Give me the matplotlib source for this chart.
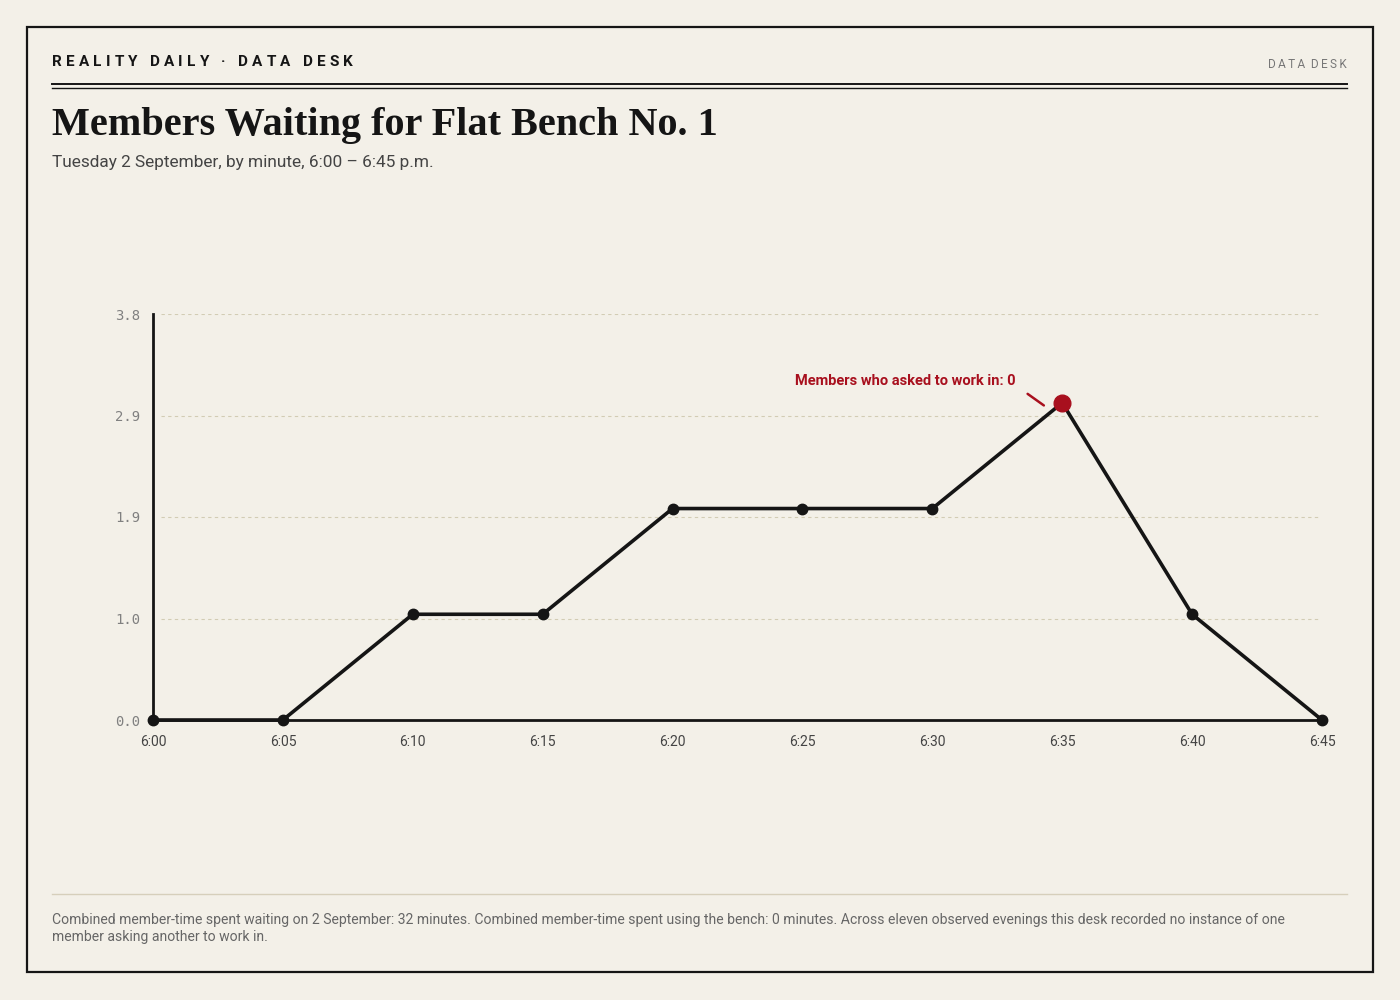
import matplotlib.pyplot as plt
from matplotlib.lines import Line2D
from matplotlib.patches import Rectangle

# data
minutes = [0, 5, 10, 15, 20, 25, 30, 35, 40, 45]
waiting = [0, 0, 1, 1, 2, 2, 2, 3, 1, 0]
x_labels = ['6:00', '6:05', '6:10', '6:15', '6:20', '6:25', '6:30', '6:35', '6:40', '6:45']
y_max = 3.84
y_ticks = [0, 0.96, 1.92, 2.88, 3.84]
y_labels = ['0.0', '1.0', '1.9', '2.9', '3.8']
peak_idx = 7
note = 'Members who asked to work in: 0'

BG = '#f3f0e8'
INK = '#151515'
RED = '#a8101e'

fig = plt.figure(figsize=(14, 10), dpi=100)
fig.patch.set_facecolor(BG)
renderer = fig.canvas.get_renderer()


def tracked(x_px, y_px, s, track_px, **kw):
    # draw text letter by letter with extra spacing (px)
    x = x_px
    for ch in s:
        t = fig.text(x / 1400, 1 - y_px / 1000, ch, va='center', ha='left', **kw)
        w = t.get_window_extent(renderer).width if ch != ' ' else kw.get('fontsize', 10) * 0.35
        x += w + track_px
    return x


# outer frame
fig.patches.append(Rectangle((27 / 1400, 1 - 972 / 1000), 1346 / 1400, 945 / 1000,
                             transform=fig.transFigure, fill=False, edgecolor=INK, linewidth=1.6))

# header
tracked(52, 62, 'REALITY DAILY · DATA DESK', 4.2, fontsize=11, fontweight='bold',
        family='Roboto', color=INK)
fig.text(1347 / 1400, 1 - 64 / 1000, '\u2009'.join('DATA DESK').replace('\u2009 \u2009', '  '),
         fontsize=8.5, family='Roboto', color='#777777', va='center', ha='right')
for yy, lw in [(84, 1.4), (87.5, 1.0)]:
    fig.add_artist(Line2D([52 / 1400, 1347 / 1400], [1 - yy / 1000] * 2, transform=fig.transFigure,
                          color=INK, linewidth=lw))

fig.text(52 / 1400, 1 - 125 / 1000, 'Members Waiting for Flat Bench No. 1', fontsize=29,
         fontweight='bold', family='Liberation Serif', color=INK, va='center', ha='left')
fig.text(52 / 1400, 1 - 162 / 1000, 'Tuesday 2 September, by minute, 6:00 \u2013 6:45 p.m.',
         fontsize=12.4, family='Roboto', color='#444444', va='center', ha='left')

# chart
ax = fig.add_axes([153 / 1400, 0.28, (1322 - 153) / 1400, 0.406])
ax.set_facecolor('none')
ax.set_xlim(0, 45)
ax.set_ylim(0, y_max)
for t in y_ticks[1:]:
    ax.plot([0.3, 44.85], [t, t], color='#d2ccb4', linewidth=0.8, linestyle=(0, (3, 3)), zorder=1)
ax.plot(minutes, waiting, color=INK, linewidth=2.6, marker='o', markersize=7.5,
        clip_on=False, zorder=3)
ax.plot(minutes[peak_idx], waiting[peak_idx], 'o', color=RED, markersize=12, clip_on=False, zorder=4)
ax.annotate('', xy=(minutes[peak_idx] - 0.62, waiting[peak_idx] - 0.04),
            xytext=(minutes[peak_idx] - 1.42, waiting[peak_idx] + 0.1),
            arrowprops=dict(arrowstyle='-', color=RED, linewidth=1.8))
ax.text(minutes[peak_idx] - 1.8, waiting[peak_idx] + 0.21, note, color=RED, fontsize=10.5,
        fontweight='bold', family='Roboto', ha='right', va='center')

for s in ['top', 'right']:
    ax.spines[s].set_visible(False)
for s in ['left', 'bottom']:
    ax.spines[s].set_color(INK)
    ax.spines[s].set_linewidth(2)
ax.set_xticks(minutes)
ax.set_xticklabels(x_labels, family='Roboto', fontsize=10, color='#444444')
ax.set_yticks(y_ticks)
ax.set_yticklabels(y_labels, family='DejaVu Sans Mono', fontsize=10, color='#808080')
ax.tick_params(length=0)
ax.tick_params(axis='x', pad=11)
ax.tick_params(axis='y', pad=9)

# footer
fig.add_artist(Line2D([52 / 1400, 1347 / 1400], [1 - 894 / 1000] * 2, transform=fig.transFigure,
                      color='#d6cfbb', linewidth=1))
fig.text(52 / 1400, 1 - 928.5 / 1000,
         'Combined member-time spent waiting on 2 September: 32 minutes. Combined member-time spent using '
         'the bench: 0 minutes. Across eleven observed evenings this desk recorded no instance of one\n'
         'member asking another to work in.',
         fontsize=10.1, family='Roboto', color='#666666', va='center', ha='left', linespacing=1.35)

fig.savefig('out.png', dpi=100, facecolor=BG)
